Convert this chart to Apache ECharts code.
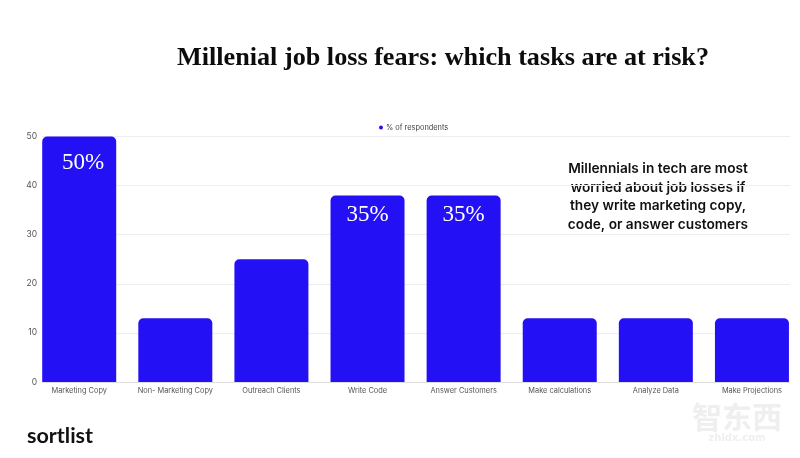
<!DOCTYPE html>
<html>
<head>
<meta charset="utf-8">
<style>
  html, body { margin: 0; padding: 0; background: #fff; }
  #chart { width: 800px; height: 458px; }
</style>
<script src="https://cdn.jsdelivr.net/npm/echarts@6/dist/echarts.min.js"></script>
</head>
<body>
<div id="chart"></div>
<script>
var categories = ['Marketing Copy', 'Non- Marketing Copy', 'Outreach Clients', 'Write Code',
  'Answer Customers', 'Make calculations', 'Analyze Data', 'Make Projections'];
var respondents = [50, 13, 25, 38, 38, 13, 13, 13];
var barLabels = ['50%', '', '', '35%', '35%', '', '', ''];
var noteLines = ['Millennials in tech are most', 'worried about job losses if',
  'they write marketing copy,', 'code, or answer customers'];

var chart = echarts.init(document.getElementById('chart'));

// the 50% label sits a little lower and to the right of the other two
var barData = respondents.map(function (v, i) {
  if (i == 0) {
    return { value: v, label: { offset: [4, 7] } };
  }
  return v;
});

var option = {
  backgroundColor: '#ffffff',
  color: ['#2410f5'],
  animation: false,
  title: {
    text: 'Millenial job loss fears: which tasks are at risk?',
    left: 172,
    top: 40,
    textStyle: {
      fontFamily: 'Liberation Serif',
      fontWeight: 'bold',
      fontSize: 26.2,
      color: '#0c0c0c'
    }
  },
  legend: {
    left: 374,
    top: 119,
    icon: 'circle',
    itemWidth: 4,
    itemHeight: 4,
    itemGap: 3,
    textStyle: { fontFamily: 'Inter', fontSize: 7.4, color: '#444', padding: [0, 0, 0, -2] }
  },
  // first grid draws the value axis and lines, second one holds the bars
  grid: [
    { left: 42, right: 10, top: 136.5, bottom: 76 },
    { left: 31.15, width: 770.4, top: 136.5, bottom: 76 }
  ],
  xAxis: [
    {
      gridIndex: 0,
      type: 'value',
      min: 0,
      max: 1,
      axisLabel: { show: false },
      axisTick: { show: false },
      splitLine: { show: false },
      axisLine: { show: true, onZero: false, lineStyle: { color: '#dddddd', width: 1 } }
    },
    {
      gridIndex: 1,
      type: 'category',
      data: categories,
      axisLine: { show: false },
      axisTick: { show: false },
      axisLabel: {
        interval: 0,
        margin: 5,
        fontFamily: 'Inter',
        fontSize: 7.4,
        color: '#555'
      }
    }
  ],
  yAxis: [
    {
      gridIndex: 0,
      type: 'value',
      min: 0,
      max: 50,
      interval: 10,
      axisLine: { show: false },
      axisTick: { show: false },
      axisLabel: { margin: 5, fontFamily: 'Inter', fontSize: 8.5, color: '#555' },
      splitLine: { lineStyle: { color: '#eeeeee', width: 1 } }
    },
    {
      gridIndex: 1,
      type: 'value',
      min: 0,
      max: 50,
      show: false
    }
  ],
  series: [{
    name: '% of respondents',
    type: 'bar',
    xAxisIndex: 1,
    yAxisIndex: 1,
    data: barData,
    barWidth: 74,
    itemStyle: { borderRadius: [5, 5, 0, 0] },
    label: {
      show: true,
      position: 'insideTop',
      distance: 8,
      formatter: function (p) {
        return barLabels[p.dataIndex];
      },
      fontFamily: 'Liberation Serif',
      fontSize: 23,
      color: '#ffffff'
    }
  }],
  graphic: [
    {
      type: 'text',
      x: 658,
      y: 159.5,
      style: {
        text: noteLines.join('\n'),
        align: 'center',
        fontFamily: 'Inter',
        fontWeight: 600,
        fontSize: 13.7,
        lineHeight: 18.7,
        fill: '#111111'
      }
    },
    {
      type: 'text',
      x: 27,
      y: 425,
      style: {
        text: 'sortlist',
        fontFamily: 'Lato',
        fontWeight: 700,
        fontSize: 21.5,
        fill: '#111111'
      }
    },
    {
      type: 'text',
      x: 737,
      y: 402,
      style: {
        text: '智东西',
        align: 'center',
        fontFamily: 'Noto Sans CJK SC',
        fontWeight: 'bold',
        fontSize: 30,
        fill: '#efefef'
      }
    },
    {
      type: 'text',
      x: 737,
      y: 433,
      style: {
        text: 'zhidx.com',
        align: 'center',
        fontFamily: 'DejaVu Sans',
        fontWeight: 'bold',
        fontSize: 10,
        fill: '#efefef'
      }
    }
  ]
};

chart.setOption(option);
</script>
</body>
</html>
